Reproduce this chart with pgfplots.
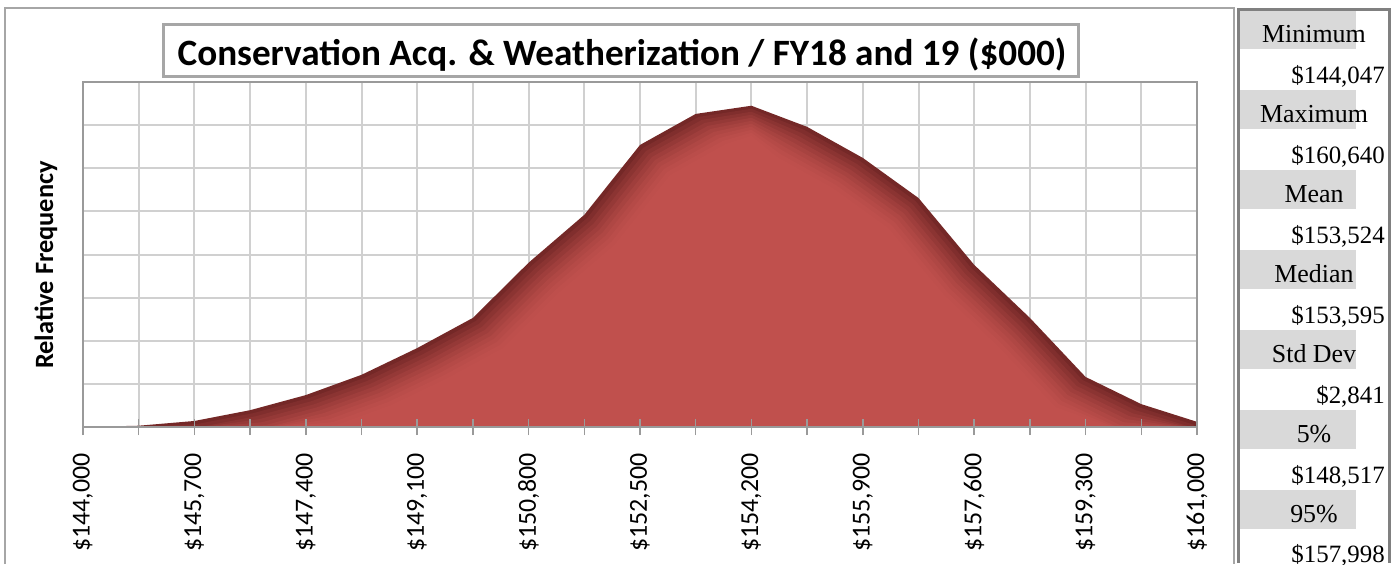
\documentclass[border=0pt]{standalone}
\usepackage{fontspec}
\usepackage{pgfplots}
\pgfplotsset{compat=1.18}
\usepackage{pgfplotstable}
\newfontfamily\carlito{Carlito}
\newfontfamily\tnr{Liberation Serif}
\definecolor{myred}{HTML}{C0504D}
\definecolor{mydark}{HTML}{742827}
\definecolor{gridgray}{HTML}{D0D0D0}
\definecolor{axgray}{HTML}{9A9A9A}
\definecolor{outgray}{HTML}{A6A6A6}
\definecolor{bandgray}{HTML}{D9D9D9}
\definecolor{tabgray}{HTML}{808080}

\pgfplotstableread{
x y
144000 0
144850 0.03
145700 0.14
146550 0.39
147400 0.74
148250 1.21
149100 1.83
149950 2.53
150800 3.81
151650 4.92
152500 6.54
153350 7.26
154200 7.45
155050 6.96
155900 6.24
156750 5.31
157600 3.76
158450 2.53
159300 1.16
160150 0.53
161000 0.12
}\curve

\pgfplotsset{layers/mine/.define layer set={axis background,axis grid,pre main,main,axis ticks,axis lines,axis tick labels,axis descriptions,axis foreground}{/pgfplots/layers/standard}}

% inner shading: the same data, inset by #1 px towards the inside of the area
\newcommand\rim[2]{\addplot[draw=none, fill=myred!#2!mydark] table[
  x expr={\thisrow{x}+#1*15.26*((\thisrow{x}<154200)-(\thisrow{x}>154200))},
  y expr={max(\thisrow{y}-#1*0.02319,0)}] {\curve} \closedcycle;}

\begin{document}
\begin{tikzpicture}
\path (0,0) rectangle (1395bp,-565bp);
% outer chart border
\draw[draw=outgray, line width=1.5bp] (5bp,-564bp) -- (5bp,-8bp) -- (1234bp,-8bp) -- (1234bp,-564bp);
% statistics table
\foreach \k in {0,...,6} {
  \fill[bandgray] (1240bp,{-(10+80*\k)*1bp}) rectangle (1356bp,{-(49+80*\k)*1bp});
}
\draw[tabgray, line width=3bp] (1238.5bp,-563bp) -- (1238.5bp,-9.5bp) -- (1389bp,-9.5bp) -- (1389bp,-563bp);
\begin{scope}[every node/.style={font=\tnr\fontsize{26}{30}\selectfont, inner sep=0pt, text depth=0pt}]
\node[anchor=base] at (1314bp,-42bp) {Minimum};
\node[anchor=base] at (1314bp,-122bp) {Maximum};
\node[anchor=base] at (1314bp,-202bp) {Mean};
\node[anchor=base] at (1314bp,-282bp) {Median};
\node[anchor=base] at (1314bp,-362bp) {Std Dev};
\node[anchor=base] at (1314bp,-442bp) {5\%};
\node[anchor=base] at (1314bp,-522bp) {95\%};
\end{scope}
\begin{scope}[every node/.style={font=\tnr\fontsize{25}{30}\selectfont, inner sep=0pt, text depth=0pt, anchor=base east}]
\node at (1385bp,-83bp) {\$144,047};
\node at (1385bp,-163bp) {\$160,640};
\node at (1385bp,-243bp) {\$153,524};
\node at (1385bp,-323bp) {\$153,595};
\node at (1385bp,-403bp) {\$2,841};
\node at (1385bp,-483bp) {\$148,517};
\node at (1385bp,-562bp) {\$157,998};
\end{scope}

\begin{axis}[
  set layers=mine,
  at={(83bp,-427bp)}, anchor=south west,
  scale only axis, width=1114bp, height=345bp,
  xmin=144000, xmax=161000, ymin=0, ymax=8,
  scaled x ticks=false, scaled y ticks=false,
  xtick={144000,145700,...,161000},
  minor xtick={144850,146550,...,160150},
  xticklabels={{\$144,000},{\$145,700},{\$147,400},{\$149,100},{\$150,800},{\$152,500},{\$154,200},{\$155,900},{\$157,600},{\$159,300},{\$161,000}},
  xtick pos=bottom,
  xticklabel style={rotate=90, anchor=east, inner sep=0pt, font=\carlito\fontsize{26}{30}\selectfont},
  xticklabel shift=18bp,
  ytick={0,...,8}, yticklabels={}, ytick style={draw=none},
  xtick style={draw=axgray, line width=1.5bp},
  major tick length=16bp, minor tick length=16bp, tick align=center,
  grid=both,
  major grid style={draw=gridgray, line width=2bp},
  minor grid style={draw=gridgray, line width=2bp},
  axis line style={draw=axgray, line width=1.8bp},
  clip=true,
]
\addplot[draw=none, fill=mydark] table[x=x,y=y] {\curve} \closedcycle;
\rim{3}{16}
\rim{6}{30}
\rim{9}{43}
\rim{12}{56}
\rim{15}{67}
\rim{18}{77}
\rim{21}{85}
\rim{24}{92}
\rim{27}{97}
\rim{30}{100}
\end{axis}

% title box
\draw[draw=outgray, fill=white, line width=3bp] (163bp,-24bp) rectangle (1078bp,-76bp);
\node[font=\carlito\bfseries\fontsize{37.3}{40}\selectfont, anchor=base, inner sep=0pt] at (622bp,-65bp) {Conservation Acq. \& Weatherization / FY18 and 19 (\$000)};
% y label
\node[rotate=90, font=\carlito\bfseries\fontsize{26.5}{30}\selectfont, anchor=base, inner sep=0pt] at (53bp,-265bp) {Relative Frequency};
\end{tikzpicture}
\end{document}
